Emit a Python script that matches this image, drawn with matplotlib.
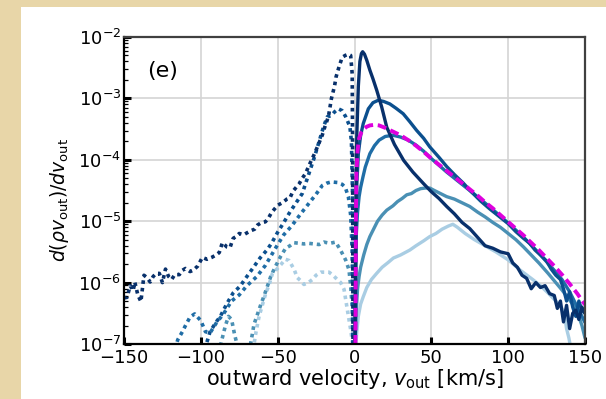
import numpy as np
import matplotlib.pyplot as plt
from matplotlib.patches import Rectangle

# solid curves: outflowing gas, v > 0 (log10 of the value)
s1_v = [0.3, 0.8, 1.5, 2.5, 3.5, 4.5, 5.3, 6.5, 8, 10, 12, 14.5, 17.7, 21, 26, 32, 38, 45,
        50, 55, 60, 65, 70, 75, 80, 85, 90, 95, 100, 103, 106, 109, 112, 115, 118, 121,
        124, 127, 130, 132, 134, 136, 138, 140, 142, 144, 146, 148, 150]
s1_log = [-7, -5.0, -3.6, -2.8, -2.4, -2.27, -2.24, -2.28, -2.38, -2.54, -2.68, -2.87, -3.14,
          -3.47, -3.75, -4.01, -4.2, -4.39, -4.52, -4.63, -4.76, -4.88, -5.02, -5.12, -5.26,
          -5.4, -5.44, -5.5, -5.53, -5.68, -5.75, -5.88, -5.93, -6.1, -6.0, -6.08, -6.05,
          -6.18, -6.21, -6.42, -6.3, -6.64, -6.37, -6.75, -6.5, -6.45, -6.6, -6.4, -6.5]

s2_v = [0.5, 1, 1.5, 2.5, 4, 5.7, 9, 12, 15.5, 19, 23, 27, 31.7, 36, 40.4, 45, 49, 55, 60,
        65, 70.8, 76, 82, 88, 94, 100, 105, 110, 114, 117.5, 121, 125, 128, 131, 134, 136,
        138, 140, 142, 144, 146, 148, 150]
s2_log = [-7, -5, -4.4, -3.9, -3.6, -3.41, -3.17, -3.07, -3.03, -3.05, -3.09, -3.16, -3.25,
          -3.38, -3.52, -3.65, -3.79, -3.96, -4.11, -4.24, -4.38, -4.52, -4.67, -4.8, -4.92,
          -5.04, -5.17, -5.28, -5.36, -5.47, -5.55, -5.65, -5.78, -5.88, -5.95, -6.1, -6.3,
          -6.15, -6.4, -6.55, -6.3, -6.45, -6.5]

s3_v = [0.5, 0.8, 1.2, 2, 3, 4, 5.5, 7, 10, 13, 16, 20, 25, 30, 35, 40, 45, 50, 60, 70, 80,
        90, 100, 110, 120, 125, 130, 135, 140, 143, 146, 148, 150]
s3_log = [-7, -5.8, -5.2, -4.85, -4.6, -4.45, -4.28, -4.12, -3.9, -3.77, -3.68, -3.62, -3.6,
          -3.63, -3.68, -3.76, -3.86, -3.98, -4.2, -4.4, -4.6, -4.81, -5.03, -5.26, -5.52,
          -5.66, -5.8, -5.95, -6.15, -6.3, -6.45, -6.55, -6.65]

s4_v = [0.5, 1, 2, 3, 4, 6, 8, 10, 12, 15, 18, 21, 25, 28, 31, 34, 37, 40, 43, 46, 49, 52,
        56, 60, 65, 70, 75, 80, 85, 90, 95, 100, 105, 110, 115, 120, 126, 131, 135, 139,
        143, 146, 148, 150]
s4_log = [-7, -6.5, -6.1, -5.9, -5.75, -5.55, -5.38, -5.25, -5.15, -5.0, -4.9, -4.82, -4.75,
          -4.68, -4.63, -4.57, -4.55, -4.5, -4.47, -4.46, -4.46, -4.5, -4.55, -4.6, -4.64,
          -4.7, -4.76, -4.85, -4.93, -5.02, -5.1, -5.2, -5.3, -5.42, -5.55, -5.68, -5.85,
          -6.0, -6.12, -6.25, -6.39, -6.55, -6.7, -6.9]

s5_v = [1, 1.5, 2.5, 4, 5.7, 8, 11, 14.4, 18, 22, 25.3, 30, 36, 40, 45, 49, 53, 57, 61, 64,
        67, 72, 78, 85, 92, 100, 108, 116, 121, 126, 131, 134.5, 136.5, 138, 139.5, 141]
s5_log = [-7, -6.8, -6.55, -6.35, -6.23, -6.08, -5.95, -5.85, -5.75, -5.67, -5.6, -5.55,
          -5.47, -5.4, -5.32, -5.25, -5.2, -5.13, -5.08, -5.05, -5.1, -5.2, -5.3, -5.4, -5.5,
          -5.63, -5.8, -5.95, -6.05, -6.17, -6.3, -6.4, -6.5, -6.75, -6.9, -7.1]

# dashed magenta reference curve
fit_v = [0.6, 0.9, 1.3, 2, 3, 4.5, 6, 8, 10, 13, 16, 20, 25, 30, 35, 40, 45, 50, 55, 60, 65,
         70, 75, 80, 85, 90, 95, 100, 105, 110, 115, 120, 125, 130, 135, 140, 145, 150]
fit_log = [-7, -5, -4.2, -3.85, -3.65, -3.55, -3.5, -3.46, -3.44, -3.43, -3.44, -3.48, -3.54,
           -3.6, -3.68, -3.77, -3.87, -3.98, -4.08, -4.18, -4.28, -4.38, -4.48, -4.58, -4.69,
           -4.79, -4.9, -5.01, -5.12, -5.23, -5.35, -5.47, -5.6, -5.73, -5.87, -6.02, -6.18,
           -6.36]

# dotted curves: inflowing gas, v < 0
d1_v = [-150, -148, -146, -144, -143, -141, -139, -137, -135, -133, -131, -129, -127, -125,
        -123, -121, -119, -117, -114, -112, -110, -107, -105, -102, -99, -96, -93, -90, -88,
        -86, -83, -81, -79, -77, -75, -72, -70, -67, -65, -63, -61, -58, -56, -54, -52, -50,
        -47, -44, -42, -40, -38, -36, -34, -32, -29, -26, -23.5, -21, -19, -17, -15, -13,
        -12, -10, -8, -6, -4, -2.5, -1.5, -1.2, -1]
d1_log = [-6.25, -6.24, -6.05, -6.13, -5.99, -6.2, -6.31, -5.88, -5.92, -5.99, -5.9, -5.85,
          -5.85, -6.0, -5.78, -5.9, -5.95, -5.87, -5.87, -5.8, -5.77, -5.82, -5.8, -5.73,
          -5.59, -5.62, -5.59, -5.55, -5.51, -5.35, -5.42, -5.43, -5.28, -5.25, -5.2, -5.22,
          -5.19, -5.15, -5.13, -5.06, -5.03, -5.01, -4.95, -4.86, -4.8, -4.74, -4.7, -4.64,
          -4.62, -4.51, -4.45, -4.39, -4.3, -4.23, -4.06, -3.9, -3.75, -3.6, -3.44, -3.3,
          -3.0, -2.8, -2.65, -2.48, -2.33, -2.3, -2.28, -2.3, -2.6, -4, -7]

d2_v = [-1, -1.3, -2, -3, -5.7, -8, -10.5, -13, -15, -17.7, -20, -23, -26, -30, -34, -38,
        -42, -46, -50, -54, -57, -61.5, -66, -70, -74.5, -79, -83, -87.5, -90, -94, -97]
d2_log = [-7, -4.5, -3.7, -3.46, -3.3, -3.2, -3.17, -3.22, -3.28, -3.3, -3.45, -3.7, -3.95,
          -4.25, -4.55, -4.7, -4.85, -5.02, -5.18, -5.36, -5.47, -5.6, -5.76, -5.9, -6.06,
          -6.17, -6.34, -6.56, -6.64, -6.8, -7.05]

d3_v = [-1, -1.5, -2.5, -4, -6, -8, -11, -15, -18, -21, -25, -30, -35, -41, -46, -50, -54,
        -58, -63.5, -70, -75, -80, -85, -90, -94, -97, -100, -104, -107, -110, -112, -115,
        -117]
d3_log = [-7, -5.5, -4.9, -4.6, -4.45, -4.4, -4.37, -4.36, -4.38, -4.42, -4.56, -4.72,
          -4.88, -5.08, -5.22, -5.38, -5.55, -5.72, -5.9, -6.05, -6.2, -6.3, -6.5, -6.66,
          -6.82, -6.8, -6.62, -6.51, -6.56, -6.7, -6.8, -6.93, -7.1]

d4_v = [-1, -1.5, -2.5, -3.6, -5.8, -9.1, -12.3, -16, -19.9, -23, -26.4, -30, -32.9, -36,
        -39.4, -42, -44.8, -48, -51.3, -54.5, -56.7, -58.9, -61, -63.2, -65.4, -66.5, -68,
        -72, -76, -78, -80, -82, -84, -86, -88]
d4_log = [-7, -6.4, -6.05, -5.79, -5.63, -5.47, -5.34, -5.36, -5.34, -5.38, -5.37, -5.36,
          -5.37, -5.36, -5.35, -5.4, -5.44, -5.57, -5.73, -5.9, -6.06, -6.22, -6.36, -6.52,
          -6.68, -6.84, -7.05, -7.3, -7.05, -6.85, -6.6, -6.55, -6.7, -6.9, -7.1]

d5_v = [-1, -1.5, -2.4, -4.2, -6.8, -9, -11.2, -14, -16.6, -19, -22, -25, -27.4, -30,
        -32.9, -35, -37.2, -39.4, -42.6, -45, -48, -50.5, -53.4, -55.6, -57.7, -59.9,
        -62.1, -63.2, -64.2, -65.3, -66.5]
d5_log = [-7, -6.95, -6.78, -6.51, -6.11, -6.0, -5.95, -5.88, -5.83, -5.83, -5.83, -5.88,
          -5.95, -6.0, -6.03, -5.97, -5.92, -5.78, -5.64, -5.62, -5.71, -5.78, -5.85, -6.04,
          -6.17, -6.36, -6.55, -6.69, -6.82, -6.99, -7.1]

blues = ['#08306b', '#0b4f8e', '#1f6da6', '#4a90b4', '#a9cde3']
magenta = '#dd00dd'

solid = [(s1_v, s1_log), (s2_v, s2_log), (s3_v, s3_log), (s4_v, s4_log), (s5_v, s5_log)]
dotted = [(d1_v, d1_log), (d2_v, d2_log), (d3_v, d3_log), (d4_v, d4_log), (d5_v, d5_log)]

fig = plt.figure(figsize=(6.06, 3.99), dpi=100)
fig.patch.set_facecolor('#e8d6a8')
fig.add_artist(Rectangle((21 / 606, 0), 1, 1 - 7 / 399, transform=fig.transFigure,
                         facecolor='white', edgecolor='none', zorder=-5))

ax = fig.add_axes([124 / 606, 1 - 344 / 399, 461 / 606, 307 / 399])

for (v, lg), c in zip(reversed(dotted), reversed(blues)):
    ax.plot(v, 10 ** np.array(lg), color=c, lw=2.6, linestyle=(0, (1, 1.1)))
for (v, lg), c in zip(reversed(solid), reversed(blues)):
    ax.plot(v, 10 ** np.array(lg), color=c, lw=2.4, solid_capstyle='round')
# magenta dashed curve sits on top of the blue ones
ax.plot(fit_v, 10 ** np.array(fit_log), color=magenta, lw=2.8, linestyle=(0, (2.3, 1.2)))

ax.set_yscale('log')
ax.set_xlim(-150, 150)
ax.set_ylim(1e-7, 1e-2)
ax.set_xticks([-150, -100, -50, 0, 50, 100, 150])
ax.grid(True, which='major', color='#d4d4d4', lw=1.2)
ax.set_axisbelow(True)

ax.tick_params(which='major', direction='in', length=5, width=2.2, labelsize=13,
               top=False, right=False, color='black')
ax.tick_params(axis='x', which='major', pad=3.5)
ax.tick_params(axis='y', which='major', pad=2)
ax.tick_params(which='minor', direction='in', length=3, width=0.9, top=False, right=False)
for side in ['left', 'bottom']:
    ax.spines[side].set_color('black')
    ax.spines[side].set_linewidth(1.6)
for side in ['top', 'right']:
    ax.spines[side].set_color('#404040')
    ax.spines[side].set_linewidth(1.6)

ax.set_xlabel(r'outward velocity, $v_{\rm out}$ [km/s]', fontsize=15, labelpad=0)
ax.set_ylabel(r'$d(\rho v_{\rm out})/dv_{\rm out}$', fontsize=13.5)
ax.yaxis.set_label_coords(-0.115, 0.47)
ax.text(0.05, 0.89, '(e)', transform=ax.transAxes, fontsize=16, va='center')

fig.savefig('out.png', dpi=100, facecolor=fig.get_facecolor())
